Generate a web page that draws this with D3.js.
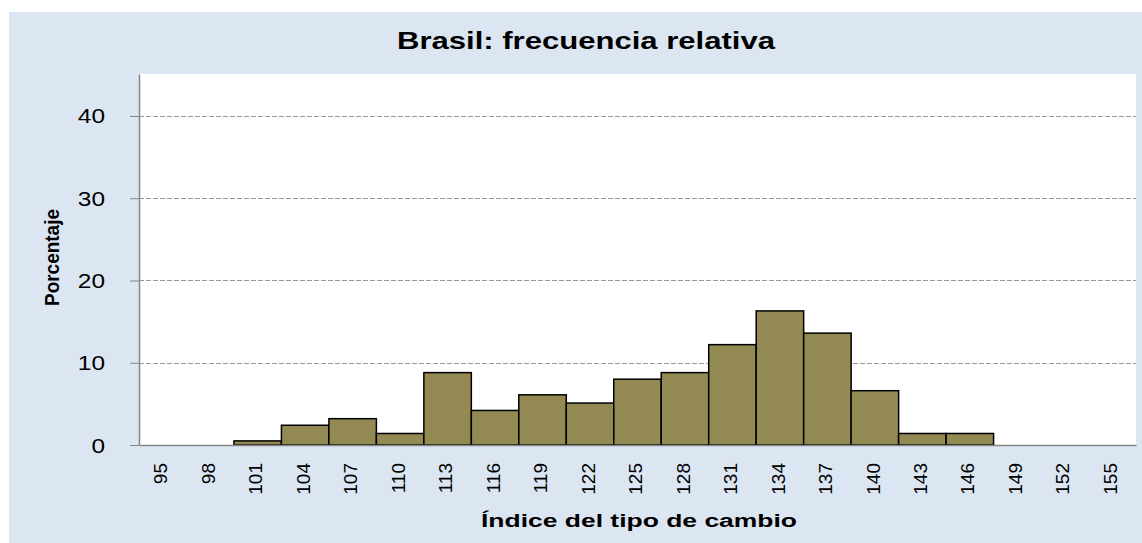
<!doctype html>
<html lang="es">
<head>
  <meta charset="UTF-8">
  <title>Brasil: frecuencia relativa</title>
  <script src="https://d3js.org/d3.v7.min.js"></script>
  <style>
    body { margin: 0; background: #fff; }
    text { font-family: "Liberation Sans", Arial, sans-serif; }
  </style>
</head>
<body>
  <script>
    // categories (indice del tipo de cambio) and relative frequency (%)
    var categories = ["95", "98", "101", "104", "107", "110", "113", "116", "119", "122", "125",
                      "128", "131", "134", "137", "140", "143", "146", "149", "152", "155"];
    var percentages = [0, 0, 0.5, 2.4, 3.2, 1.4, 8.8, 4.2, 6.1, 5.1, 8.0,
                       8.8, 12.2, 16.3, 13.6, 6.6, 1.4, 1.4, 0, 0, 0];
    var yTicks = [0, 10, 20, 30, 40];

    var width = 1142, height = 543;
    var plot = { left: 139, top: 74, right: 1136, bottom: 445 };

    var svg = d3.select("body").append("svg")
      .attr("width", width)
      .attr("height", height);

    svg.append("rect")
      .attr("x", 9).attr("y", 12)
      .attr("width", width - 9).attr("height", height - 12)
      .attr("fill", "#dce6f2");

    svg.append("rect")
      .attr("x", plot.left).attr("y", plot.top)
      .attr("width", plot.right - plot.left).attr("height", plot.bottom - plot.top)
      .attr("fill", "#fff");

    var x = d3.scaleBand()
      .domain(categories)
      .range([plot.left, plot.right])
      .padding(0);

    var y = d3.scaleLinear()
      .domain([0, 45.1])
      .range([plot.bottom, plot.top]);

    // gridlines
    svg.append("g").selectAll("line")
      .data(yTicks.filter(function(d) { return d > 0; }))
      .enter().append("line")
      .attr("x1", plot.left).attr("x2", plot.right)
      .attr("y1", function(d) { return Math.round(y(d)) + 0.5; })
      .attr("y2", function(d) { return Math.round(y(d)) + 0.5; })
      .attr("stroke", "#999")
      .attr("stroke-dasharray", "5,2");

    // bars (skip empty bins so no outline is drawn on the baseline)
    var nonEmpty = d3.range(categories.length).filter(function(i) { return percentages[i] > 0; });
    svg.append("g").selectAll("rect")
      .data(nonEmpty)
      .enter().append("rect")
      .attr("x", function(i) { return x(categories[i]); })
      .attr("y", function(i) { return y(percentages[i]); })
      .attr("width", x.bandwidth())
      .attr("height", function(i) { return y(0) - y(percentages[i]); })
      .attr("fill", "#938953")
      .attr("stroke", "#000")
      .attr("stroke-width", 1.5);

    // y axis
    var yAxis = svg.append("g")
      .attr("transform", "translate(" + plot.left + ",0)")
      .call(d3.axisLeft(y).tickValues(yTicks).tickSize(9).tickPadding(25).tickSizeOuter(0));
    yAxis.select(".domain").attr("stroke", "#868686").attr("stroke-width", 1.5);
    yAxis.selectAll(".tick line").attr("stroke", "#868686");
    yAxis.selectAll(".tick text")
      .attr("font-size", 19.5)
      .attr("font-family", "Liberation Sans, Arial, sans-serif")
      .attr("fill", "#000")
      .attr("dy", "0.36em")
      .attr("textLength", function(d) { return String(d).length * 13.6; })
      .attr("lengthAdjust", "spacingAndGlyphs");

    // x axis
    var xAxis = svg.append("g")
      .attr("transform", "translate(0," + plot.bottom + ")")
      .call(d3.axisBottom(x).tickSize(0).tickPadding(0));
    xAxis.select(".domain").attr("stroke", "#868686").attr("stroke-width", 1.5);
    xAxis.selectAll(".tick text")
      .attr("font-size", 19)
      .attr("font-family", "Liberation Sans, Arial, sans-serif")
      .attr("fill", "#000")
      .attr("transform", "rotate(-90)")
      .attr("text-anchor", "end")
      .attr("x", -18)
      .attr("y", -2)
      .attr("dy", "0.35em");

    // titles
    svg.append("text")
      .attr("x", 397).attr("y", 49)
      .attr("font-size", 24)
      .attr("font-weight", "bold")
      .attr("textLength", 378)
      .attr("lengthAdjust", "spacingAndGlyphs")
      .text("Brasil: frecuencia relativa");

    svg.append("text")
      .attr("x", 481).attr("y", 527)
      .attr("font-size", 18)
      .attr("font-weight", "bold")
      .attr("textLength", 316)
      .attr("lengthAdjust", "spacingAndGlyphs")
      .text("Índice del tipo de cambio");

    svg.append("text")
      .attr("transform", "translate(59,306) rotate(-90)")
      .attr("font-size", 21)
      .attr("font-weight", "bold")
      .attr("textLength", 97)
      .attr("lengthAdjust", "spacingAndGlyphs")
      .text("Porcentaje");
  </script>
</body>
</html>
